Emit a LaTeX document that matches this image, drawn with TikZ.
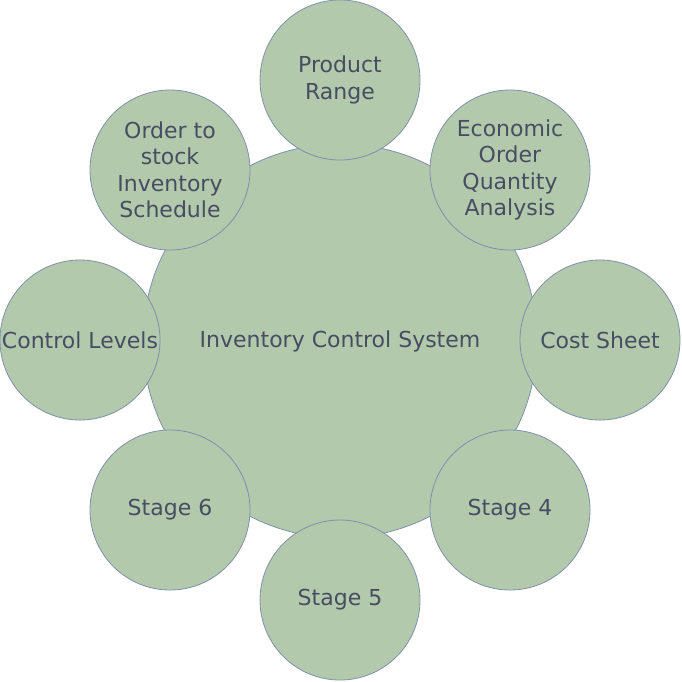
\documentclass[tikz,border=0pt]{standalone}
\usepackage{fontspec}
\setmainfont{DejaVu Sans}
\usepackage{tikz}
\definecolor{leaf}{HTML}{B3C9AC}
\definecolor{rim}{HTML}{7F8FB0}
\definecolor{ink}{HTML}{474D62}
\tikzset{
  hub/.style={circle, draw=rim, fill=leaf, line width=0.8pt, minimum size=394pt, inner sep=0pt, text=ink, font=\fontsize{22}{26}\selectfont},
  petal/.style={circle, draw=rim, fill=leaf, line width=0.8pt, minimum size=160pt, inner sep=0pt, align=center, text=ink, font=\fontsize{22}{26.5}\selectfont}
}
\begin{document}
\begin{tikzpicture}[x=1pt, y=-1pt]
\useasboundingbox (0,0) rectangle (682,681);
% Centre
\node[hub] (ics) at (340,341) {Inventory Control System};
% Surrounding circles
\node[petal] (range) at (340,80) {Product\\Range};
\node[petal] (eoq) at (510,170) {Economic\\Order\\Quantity\\Analysis};
\node[petal] (cost) at (600,340) {Cost Sheet};
\node[petal] (stage4) at (510,510) {Stage 4};
\node[petal] (stage5) at (340,600) {Stage 5};
\node[petal] (stage6) at (170,510) {Stage 6};
\node[petal] (levels) at (80,340) {Control Levels};
\node[petal] (order) at (170,170) {Order to\\stock\\Inventory\\Schedule};
\end{tikzpicture}
\end{document}
